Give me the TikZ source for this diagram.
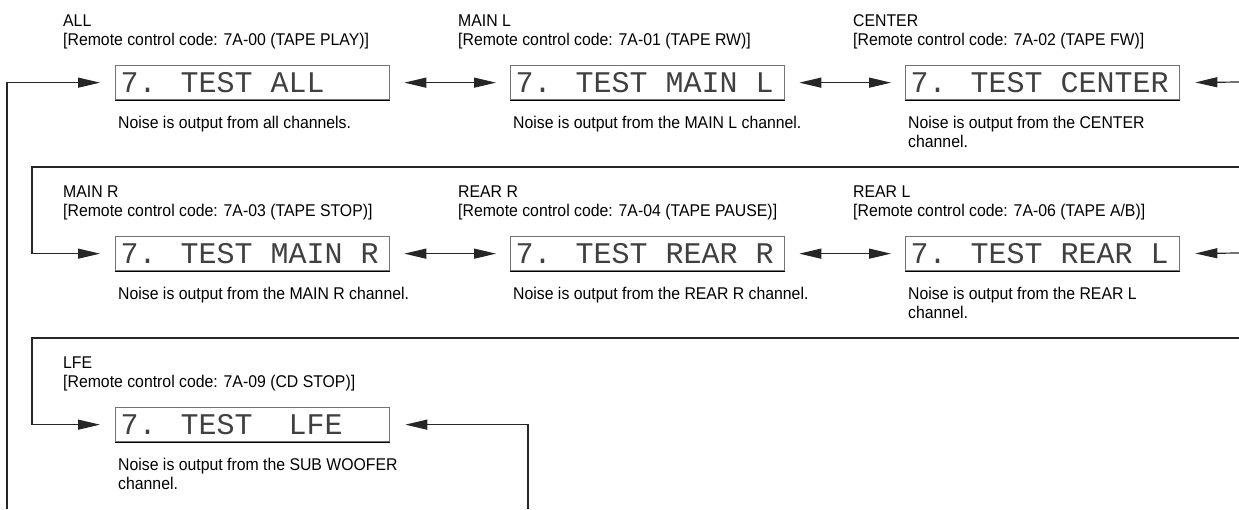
\documentclass[tikz,border=0pt]{standalone}
\usepackage{fontspec}
\setmainfont{Liberation Sans}[FakeStretch=0.93]
\newfontfamily\lcdfont{Liberation Mono}
\usetikzlibrary{arrows.meta,calc}
\begin{document}
\begin{tikzpicture}[x=1pt,y=-1pt,
  txt/.style={anchor=base west, inner sep=0pt, font=\fontsize{17}{19}\selectfont},
  lcdbox/.style={draw=black!55, line width=1.3pt, minimum height=34pt, anchor=north west,
     inner xsep=5pt, inner ysep=0pt, text=black!75, font=\lcdfont\fontsize{30}{34}\selectfont},
  conn/.style={line width=1.2pt, black!85},
  arr/.style={conn, -{Triangle[length=22pt,width=10pt]}, shorten >=15pt},
  darr/.style={conn, {Triangle[length=22pt,width=10pt]}-{Triangle[length=22pt,width=10pt]}, shorten >=14pt, shorten <=14pt},
  botedge/.style={line width=1.5pt, black}
]
\useasboundingbox (0,0) rectangle (1239,509);

% ---------- boxes ----------
\node[lcdbox] (b1) at (115,65)  {\makebox[264pt][l]{7. TEST ALL}};
\node[lcdbox] (b2) at (510,65)  {\makebox[264pt][l]{7. TEST MAIN L}};
\node[lcdbox] (b3) at (905,65)  {\makebox[264pt][l]{7. TEST CENTER}};
\node[lcdbox] (b4) at (115,236) {\makebox[264pt][l]{7. TEST MAIN R}};
\node[lcdbox] (b5) at (510,236) {\makebox[264pt][l]{7. TEST REAR R}};
\node[lcdbox] (b6) at (905,236) {\makebox[264pt][l]{7. TEST REAR L}};
\node[lcdbox] (b7) at (115,407) {\makebox[264pt][l]{7. TEST\ \ LFE}};
\foreach \b in {b1,b2,b3,b4,b5,b6,b7}{\draw[botedge] (\b.south west) -- (\b.south east);}

% ---------- headings ----------
\node[txt] (h1)  at ($(b1.north west)+(-52,-39)$) {ALL};
\node[txt] (r1)  at ($(b1.north west)+(-52,-20)$) {[Remote control code: 7A-00 (TAPE PLAY)]};
\node[txt] (n1)  at ($(b1.south west)+(3,28)$) {Noise is output from all channels.};

\node[txt] (h2)  at ($(b2.north west)+(-52,-39)$) {MAIN L};
\node[txt] (r2)  at ($(b2.north west)+(-52,-20)$) {[Remote control code: 7A-01 (TAPE RW)]};
\node[txt] (n2)  at ($(b2.south west)+(3,28)$) {Noise is output from the MAIN L channel.};

\node[txt] (h3)  at ($(b3.north west)+(-52,-39)$) {CENTER};
\node[txt] (r3)  at ($(b3.north west)+(-52,-20)$) {[Remote control code: 7A-02 (TAPE FW)]};
\node[txt] (n3)  at ($(b3.south west)+(3,28)$) {Noise is output from the CENTER};
\node[txt] (n3b) at ($(b3.south west)+(3,47)$) {channel.};

\node[txt] (h4)  at ($(b4.north west)+(-52,-39)$) {MAIN R};
\node[txt] (r4)  at ($(b4.north west)+(-52,-20)$) {[Remote control code: 7A-03 (TAPE STOP)]};
\node[txt] (n4)  at ($(b4.south west)+(3,28)$) {Noise is output from the MAIN R channel.};

\node[txt] (h5)  at ($(b5.north west)+(-52,-39)$) {REAR R};
\node[txt] (r5)  at ($(b5.north west)+(-52,-20)$) {[Remote control code: 7A-04 (TAPE PAUSE)]};
\node[txt] (n5)  at ($(b5.south west)+(3,28)$) {Noise is output from the REAR R channel.};

\node[txt] (h6)  at ($(b6.north west)+(-52,-39)$) {REAR L};
\node[txt] (r6)  at ($(b6.north west)+(-52,-20)$) {[Remote control code: 7A-06 (TAPE A/B)]};
\node[txt] (n6)  at ($(b6.south west)+(3,28)$) {Noise is output from the REAR L};
\node[txt] (n6b) at ($(b6.south west)+(3,47)$) {channel.};

\node[txt] (h7)  at ($(b7.north west)+(-52,-39)$) {LFE};
\node[txt] (r7)  at ($(b7.north west)+(-52,-20)$) {[Remote control code: 7A-09 (CD STOP)]};
\node[txt] (n7)  at ($(b7.south west)+(3,28)$) {Noise is output from the SUB WOOFER};
\node[txt] (n7b) at ($(b7.south west)+(3,47)$) {channel.};

% ---------- connector end points ----------
\coordinate (loopL)  at (7,509);
\coordinate (loopR)  at (528,509);
\coordinate (e1)     at (1239,82);
\coordinate (e2)     at (1239,253);
\coordinate (d1r)    at (1239,167);
\coordinate (d1l)    at (32,167);
\coordinate (d2r)    at (1239,338);
\coordinate (d2l)    at (32,338);

% ---------- connectors ----------
\draw[arr] (loopL) |- (b1.west);
\draw[darr] (b1.east) -- (b2.west);
\draw[darr] (b2.east) -- (b3.west);
\draw[arr] (e1) -- (b3.east);

\draw[arr] (d1r) -- (d1l) |- (b4.west);
\draw[darr] (b4.east) -- (b5.west);
\draw[darr] (b5.east) -- (b6.west);
\draw[arr] (e2) -- (b6.east);

\draw[arr] (d2r) -- (d2l) |- (b7.west);
\draw[arr] (loopR) |- (b7.east);
\end{tikzpicture}
\end{document}
